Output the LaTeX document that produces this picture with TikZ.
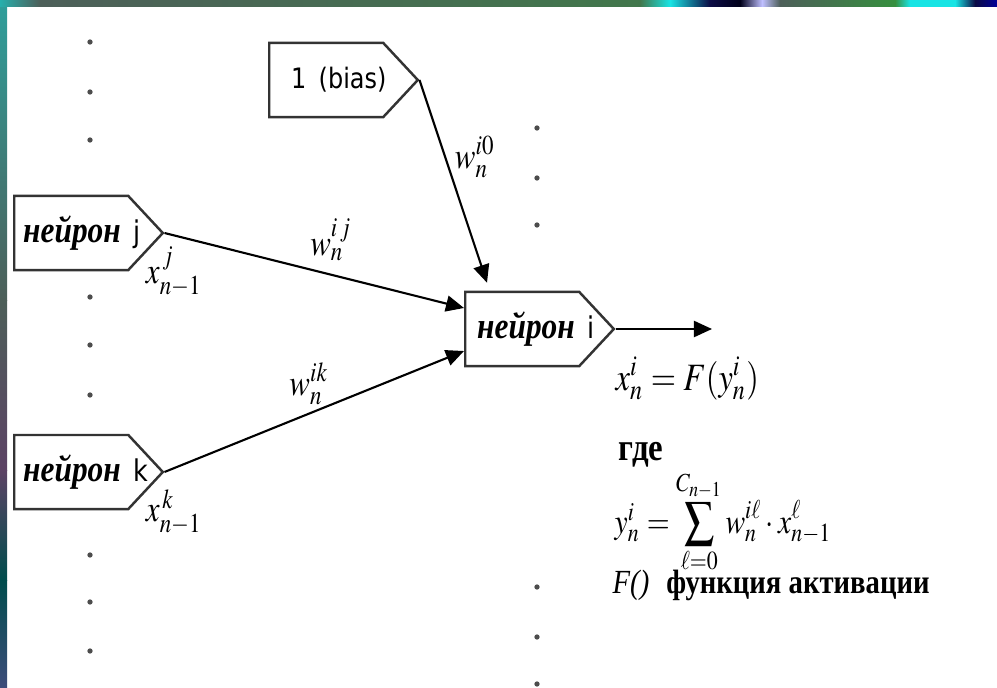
\documentclass[tikz,border=0pt]{standalone}
\usepackage{mathptmx}
\usepackage{graphicx}
\usepackage[no-math]{fontspec}
\setmainfont[FakeStretch=0.85]{Liberation Serif}
\newfontfamily\labelsans[FakeStretch=0.85]{DejaVu Sans}
\usetikzlibrary{arrows.meta,shapes.symbols}

\definecolor{frameteal}{HTML}{4D5F59}
\definecolor{framecyan}{HTML}{18E4E4}
\definecolor{framenavy}{HTML}{0C0C45}

% narrow the math the way the slide does
\newcommand{\narrowed}[1]{\scalebox{0.84}[1]{#1}}
\newcommand{\neuronname}[1]{\mbox{\textbf{\textit{нейрон}}\hspace{0.13cm}{\labelsans\fontsize{8.5}{10}\selectfont #1}}}

\tikzset{
  neuron/.style={draw=black!80, line width=0.7pt, signal, signal to=east,
    signal pointer angle=94, text width=1.14cm, align=left, minimum height=0.74cm,
    inner sep=0pt, font=\fontsize{10.5}{12}\selectfont},
  link/.style={-{Triangle[length=1.8mm,width=1.6mm]}, line width=0.6pt},
  wlabel/.style={inner sep=0pt, font=\fontsize{10.5}{12}\selectfont},
  tinydot/.style={circle, fill=black!70, inner sep=0pt, minimum size=1.5pt}
}

\begin{document}
\begin{tikzpicture}[x=0.01cm, y=-0.01cm]
  \useasboundingbox (0,0) rectangle (997,688);
  \fill[white] (0,0) rectangle (997,688);
  % slide frame
  \shade[top color=frameteal!60!cyan, bottom color=frameteal] (0,0) rectangle (7,300);
  \shade[top color=frameteal, bottom color=frameteal!70!violet] (0,300) rectangle (7,470);
  \shade[top color=frameteal!70!violet, bottom color=teal!60!black] (0,470) rectangle (7,580);
  \shade[top color=teal!60!black, bottom color=frameteal!80!blue] (0,580) rectangle (7,688);
  \shade[left color=frameteal!50!cyan, right color=frameteal] (0,0) rectangle (40,7);
  \shade[left color=frameteal, right color=frameteal!85!green] (40,0) rectangle (640,7);
  \shade[left color=frameteal!85!green, right color=framecyan] (640,0) rectangle (670,7);
  \shade[left color=framecyan, right color=framenavy] (670,0) rectangle (710,7);
  \shade[left color=framenavy, right color=black!90!blue] (710,0) rectangle (740,7);
  \shade[left color=black!90!blue, right color=blue!25!white] (740,0) rectangle (762,7);
  \shade[left color=blue!25!white, right color=frameteal] (762,0) rectangle (780,7);
  \shade[left color=frameteal, right color=frameteal!70!green] (780,0) rectangle (895,7);
  \shade[left color=frameteal!70!green, right color=framecyan] (895,0) rectangle (910,7);
  \shade[left color=framecyan, right color=framecyan] (910,0) rectangle (955,7);
  \shade[left color=framecyan, right color=framenavy] (955,0) rectangle (975,7);
  \shade[left color=framenavy, right color=blue!60!black] (975,0) rectangle (997,7);

  % neurons
  \node[neuron, anchor=west] (bias) at (268,80)
    {\hspace*{0.22cm}\mbox{\labelsans\fontsize{8}{10}\selectfont 1 (bias)}};
  \node[neuron, anchor=west] (nj) at (13,233) {\hspace*{0.09cm}\neuronname{j}};
  \node[neuron, anchor=west] (nk) at (13,472) {\hspace*{0.09cm}\neuronname{k}};
  \node[neuron, anchor=west] (ni) at (464,329) {\hspace*{0.12cm}\neuronname{i}};
  \coordinate (out) at (712,329);

  % connections
  \draw[link] (bias.east) -- ([xshift=2.3mm,yshift=0.8mm]ni.north west);
  \draw[link] (nj.east) -- ([yshift=2.1mm]ni.west);
  \draw[link] (nk.east) -- ([yshift=-2.2mm]ni.west);
  \draw[link] (ni.east) -- (out);

  % weights and inputs
  \node[wlabel] (wi0) at (475,157) {\narrowed{$w_n^{i0}$}};
  \node[wlabel] (wij) at (331,240) {\narrowed{$w_n^{i\,j}$}};
  \node[wlabel] (wik) at (309,384) {\narrowed{$w_n^{ik}$}};
  \node[wlabel] (xj) at (174,272) {\narrowed{$x_{n-1}^{\,j}$}};
  \node[wlabel] (xk) at (174,512) {\narrowed{$x_{n-1}^{\,k}$}};

  % formulas
  \node[wlabel, anchor=base west, font=\fontsize{11}{13}\selectfont] (fx) at (615,390)
    {\narrowed{$x_n^i = F(y_n^i)$}};
  \node[anchor=base west, inner sep=0pt, font=\fontsize{11}{13}\selectfont\bfseries] (gde) at (618,460) {где};
  \node[wlabel, anchor=base west, font=\fontsize{10}{12}\selectfont] (fy) at (614,533)
    {\narrowed{$y_n^i = \displaystyle\sum_{\ell=0}^{C_{n-1}} w_n^{i\ell}\cdot x_{n-1}^{\ell}$}};
  \node[anchor=base west, inner sep=0pt, font=\fontsize{9.6}{12}\selectfont] (fact) at (612,593)
    {\textit{F()}\hspace{0.17cm}\textbf{функция активации}};

  % ellipsis dots
  \foreach \y in {42,92,140,297,345,395,555,602,651}
    \node[tinydot] at (90,\y) {};
  \foreach \y in {128,178,225,587,637,684}
    \node[tinydot] at (537,\y) {};
\end{tikzpicture}
\end{document}
